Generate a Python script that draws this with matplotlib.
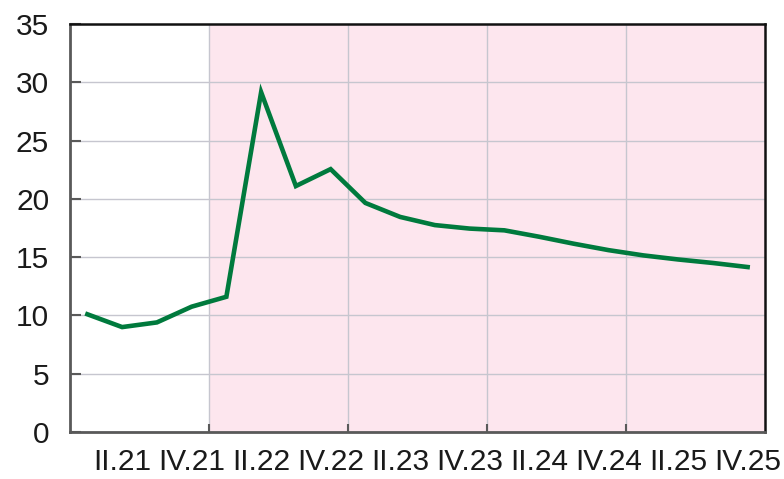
import matplotlib
matplotlib.use("Agg")
import matplotlib.pyplot as plt
import numpy as np

# Quarterly series, I.21 .. IV.25
quarters = ["I.21", "II.21", "III.21", "IV.21",
            "I.22", "II.22", "III.22", "IV.22",
            "I.23", "II.23", "III.23", "IV.23",
            "I.24", "II.24", "III.24", "IV.24",
            "I.25", "II.25", "III.25", "IV.25"]
values = [10.1, 9.0, 9.4, 10.75,
          11.6, 29.15, 21.1, 22.55,
          19.65, 18.45, 17.75, 17.45,
          17.3, 16.75, 16.15, 15.6,
          15.15, 14.8, 14.5, 14.15]
y_ticks = [0, 5, 10, 15, 20, 25, 30, 35]
shade_from = "I.22"

plt.rcParams["font.family"] = ["Liberation Sans", "DejaVu Sans"]

fig = plt.figure(figsize=(7.84, 4.79), dpi=100)
ax = fig.add_axes([70 / 784, 1 - 432 / 479, 695 / 784, 408 / 479])

n = len(quarters)
x = np.arange(n) + 0.5

# forecast-period shading
ax.axvspan(quarters.index(shade_from), n, color="#fde6ee", zorder=0, lw=0)

ax.plot(x, values, color="#007a3d", lw=3.3, solid_joinstyle="miter", zorder=3)

ax.set_xlim(0, n)
ax.set_ylim(0, 35)
ax.set_yticks(y_ticks)

# year boundaries as major ticks (marks + gridlines), labels on even quarters
year_bounds = [4, 8, 12, 16]
ax.set_xticks(year_bounds)
ax.set_xticklabels([])
lab_idx = [i for i, q in enumerate(quarters) if q.startswith("II.") or q.startswith("IV.")]
ax.set_xticks([x[i] for i in lab_idx], minor=True)
ax.set_xticklabels([quarters[i] for i in lab_idx], minor=True)

ax.tick_params(axis="x", which="major", direction="in", length=6, width=1.5,
               color="#595959")
ax.tick_params(axis="x", which="minor", length=0, labelsize=21.5, pad=11.5,
               colors="#1a1a1a")
ax.tick_params(axis="y", direction="in", length=8, width=1.5, color="#595959",
               labelsize=21.5, pad=15, labelcolor="#1a1a1a")

ax.grid(True, which="major", color="#c6c6cf", lw=1.0, zorder=1)
ax.set_axisbelow(True)

for side in ("left", "bottom"):
    ax.spines[side].set_color("#595959")
    ax.spines[side].set_linewidth(2)
for side in ("top", "right"):
    ax.spines[side].set_color("#111111")
    ax.spines[side].set_linewidth(1.8)

fig.savefig("out.png", dpi=100)
